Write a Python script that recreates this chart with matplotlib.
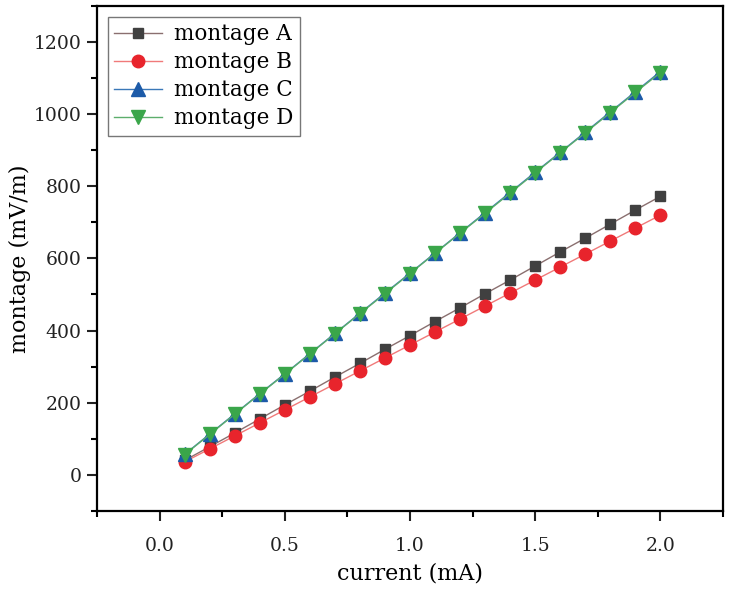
import matplotlib

matplotlib.use("Agg")
import matplotlib.pyplot as plt
from matplotlib.ticker import MultipleLocator

# values
current_ma = [0.1, 0.2, 0.3, 0.4, 0.5, 0.6, 0.7, 0.8, 0.9, 1.0,
              1.1, 1.2, 1.3, 1.4, 1.5, 1.6, 1.7, 1.8, 1.9, 2.0]
montage_a = [40, 78, 116, 155, 194, 232, 271, 309, 348, 386,
             425, 463, 502, 540, 579, 618, 656, 695, 734, 772]
montage_b = [36, 72, 108, 144, 180, 216, 252, 288, 324, 360,
             396, 432, 468, 504, 540, 576, 612, 648, 684, 720]
montage_c = [57, 113, 169, 225, 280, 336, 392, 448, 504, 559,
             615, 671, 727, 783, 839, 894, 950, 1006, 1062, 1118]
montage_d = [56, 112, 168, 224, 279, 335, 391, 447, 502, 558,
             614, 670, 725, 781, 837, 893, 948, 1004, 1060, 1115]
series_names = ["montage A", "montage B", "montage C", "montage D"]

plt.rcParams["font.family"] = ["DejaVu Serif"]

fig = plt.figure(figsize=(7.33, 5.90), dpi=100)
ax = fig.add_axes([0.1323, 0.134, 0.854, 0.856])

styles = [
    dict(color="#8a6f6f", marker="s", mfc="#404040", ms=7.5),
    dict(color="#f07a7a", marker="o", mfc="#e8242c", ms=9),
    dict(color="#3a78b8", marker="^", mfc="#1c5aa8", ms=10),
    dict(color="#5cae6c", marker="v", mfc="#3aa64a", ms=10),
]
for values, name, st in zip([montage_a, montage_b, montage_c, montage_d], series_names, styles):
    ax.plot(current_ma, values, color=st["color"], lw=1.0, marker=st["marker"],
            mfc=st["mfc"], mec=st["mfc"], ms=st["ms"], label=name)

ax.set_xlim(-0.25, 2.25)
ax.set_ylim(-100, 1300)
ax.xaxis.set_major_locator(MultipleLocator(0.5))
ax.xaxis.set_minor_locator(MultipleLocator(0.25))
ax.yaxis.set_major_locator(MultipleLocator(200))
ax.yaxis.set_minor_locator(MultipleLocator(100))
ax.set_xticks([0.0, 0.5, 1.0, 1.5, 2.0])
ax.set_xticklabels(["0.0", "0.5", "1.0", "1.5", "2.0"])

for spine in ax.spines.values():
    spine.set_linewidth(1.6)
ax.tick_params(which="major", direction="out", length=7, width=1.5, labelsize=13.5,
               colors="#222222")
ax.tick_params(which="minor", direction="out", length=4, width=1.5)
ax.tick_params(axis="x", pad=12)
ax.tick_params(axis="y", pad=4)

ax.set_xlabel("current (mA)", fontsize=16, labelpad=5)
ax.set_ylabel("montage (mV/m)", fontsize=16, labelpad=2)

leg = ax.legend(loc="upper left", fontsize=15.5, frameon=True, fancybox=False,
                edgecolor="#555555", borderaxespad=0.5, handlelength=2.2,
                labelspacing=0.28, borderpad=0.3, handletextpad=0.6)
leg.get_frame().set_linewidth(1.0)

fig.savefig("out.png", dpi=100)
